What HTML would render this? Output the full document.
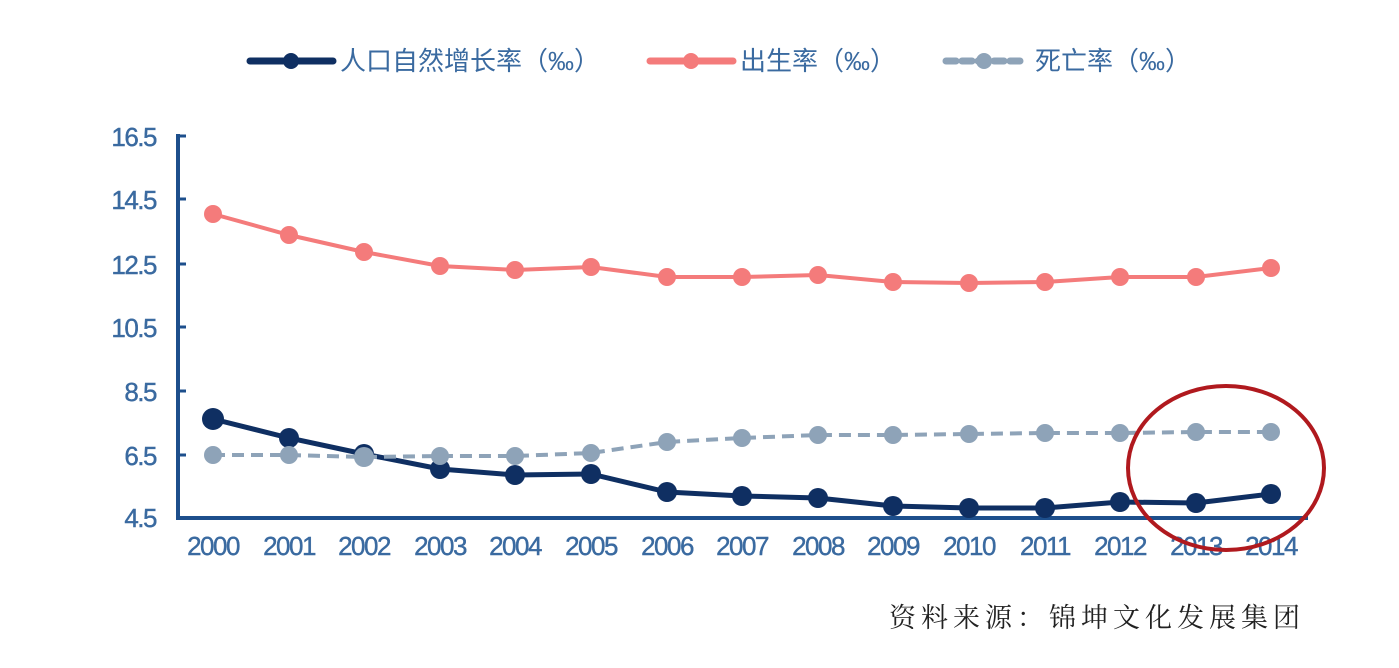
<!DOCTYPE html>
<html><head><meta charset="utf-8"><style>
html,body{margin:0;padding:0;background:#fff;width:1399px;height:668px;overflow:hidden}
svg{display:block}
.t{font-family:"Liberation Sans",sans-serif;font-size:26px;fill:#3a6aa0;letter-spacing:-1.5px;stroke:#3a6aa0;stroke-width:0.4}
.l{font-family:"Liberation Sans","Noto Sans CJK SC",sans-serif;font-size:26px;fill:#3a6aa0}
</style></head><body>
<svg width="1399" height="668" viewBox="0 0 1399 668">
<g id="legend">
<line x1="250" y1="61" x2="333" y2="61" stroke="#0f2f62" stroke-width="7" stroke-linecap="round"/>
<circle cx="291" cy="61" r="8" fill="#0f2f62"/>
<text class="l" x="340" y="70">人口自然增长率（‰）</text>
<line x1="650" y1="61" x2="733" y2="61" stroke="#f47b7b" stroke-width="7" stroke-linecap="round"/>
<circle cx="691" cy="61" r="8" fill="#f47b7b"/>
<text class="l" x="740" y="70">出生率（‰）</text>
<line x1="946" y1="61" x2="1022" y2="61" stroke="#8ea3b8" stroke-width="7" stroke-dasharray="10,6" stroke-linecap="round"/>
<circle cx="984" cy="61" r="8" fill="#8ea3b8"/>
<text class="l" x="1035" y="70">死亡率（‰）</text>
</g>
<g stroke="#1d4f8c" stroke-width="4" fill="none">
<line x1="178" y1="134" x2="178" y2="518"/>
<line x1="176" y1="518" x2="1308" y2="518"/>
</g>
<g stroke="#1d4f8c" stroke-width="3">
<line x1="178" y1="136" x2="186" y2="136"/><line x1="178" y1="199" x2="186" y2="199"/>
<line x1="178" y1="264" x2="186" y2="264"/><line x1="178" y1="327" x2="186" y2="327"/>
<line x1="178" y1="391" x2="186" y2="391"/><line x1="178" y1="455" x2="186" y2="455"/>
</g>
<g class="t" text-anchor="end">
<text x="156" y="146">16.5</text><text x="156" y="209">14.5</text><text x="156" y="274">12.5</text>
<text x="156" y="337">10.5</text><text x="156" y="401">8.5</text><text x="156" y="465">6.5</text><text x="156" y="527">4.5</text>
</g>
<g class="t" text-anchor="middle">
<text x="213" y="555">2000</text><text x="289" y="555">2001</text><text x="364" y="555">2002</text><text x="440" y="555">2003</text><text x="515" y="555">2004</text><text x="591" y="555">2005</text><text x="667" y="555">2006</text><text x="742" y="555">2007</text><text x="818" y="555">2008</text><text x="893" y="555">2009</text><text x="969" y="555">2010</text><text x="1045" y="555">2011</text><text x="1120" y="555">2012</text><text x="1196" y="555">2013</text><text x="1271" y="555">2014</text>
</g>
<g>
<polyline fill="none" stroke="#f47b7b" stroke-width="4" points="213,214 289,235 364,252 440,266 515,270 591,267 667,277 742,277 818,275 893,282 969,283 1045,282 1120,277 1196,277 1271,268"/>
<g fill="#f47b7b">
<circle cx="213" cy="214" r="9"/><circle cx="289" cy="235" r="9"/><circle cx="364" cy="252" r="9"/><circle cx="440" cy="266" r="9"/><circle cx="515" cy="270" r="9"/><circle cx="591" cy="267" r="9"/><circle cx="667" cy="277" r="9"/><circle cx="742" cy="277" r="9"/><circle cx="818" cy="275" r="9"/><circle cx="893" cy="282" r="9"/><circle cx="969" cy="283" r="9"/><circle cx="1045" cy="282" r="9"/><circle cx="1120" cy="277" r="9"/><circle cx="1196" cy="277" r="9"/><circle cx="1271" cy="268" r="9"/>
</g>
<polyline fill="none" stroke="#0f2f62" stroke-width="5" points="213,419 289,438 364,454 440,469 515,475 591,474 667,492 742,496 818,498 893,506 969,508 1045,508 1120,502 1196,503 1271,494"/>
<g fill="#0f2f62">
<circle cx="213" cy="419" r="11"/><circle cx="289" cy="438" r="10"/><circle cx="364" cy="454" r="10"/><circle cx="440" cy="469" r="10"/><circle cx="515" cy="475" r="10"/><circle cx="591" cy="474" r="10"/><circle cx="667" cy="492" r="10"/><circle cx="742" cy="496" r="10"/><circle cx="818" cy="498" r="10"/><circle cx="893" cy="506" r="10"/><circle cx="969" cy="508" r="10"/><circle cx="1045" cy="508" r="10"/><circle cx="1120" cy="502" r="10"/><circle cx="1196" cy="503" r="10"/><circle cx="1271" cy="494" r="10"/>
</g>
<polyline fill="none" stroke="#8ea3b8" stroke-width="4" stroke-dasharray="12,7" points="213,455 289,455 364,457 440,456 515,456 591,453 667,442 742,438 818,435 893,435 969,434 1045,433 1120,433 1196,432 1271,432"/>
<g fill="#8ea3b8">
<circle cx="213" cy="455" r="9"/><circle cx="289" cy="455" r="9"/><circle cx="364" cy="457" r="10"/><circle cx="440" cy="456" r="9"/><circle cx="515" cy="456" r="9"/><circle cx="591" cy="453" r="9"/><circle cx="667" cy="442" r="9"/><circle cx="742" cy="438" r="9"/><circle cx="818" cy="435" r="9"/><circle cx="893" cy="435" r="9"/><circle cx="969" cy="434" r="9"/><circle cx="1045" cy="433" r="9"/><circle cx="1120" cy="433" r="9"/><circle cx="1196" cy="432" r="9"/><circle cx="1271" cy="432" r="9"/>
</g>
</g>
<ellipse cx="1226" cy="468" rx="98" ry="82" fill="none" stroke="#b0191e" stroke-width="4"/>
<text x="1305" y="627" text-anchor="end" style="font-family:'Noto Serif CJK SC','Liberation Serif',serif;font-size:27px;fill:#222;letter-spacing:5px">资料来源：锦坤文化发展集团</text>
</svg>
</body></html>
